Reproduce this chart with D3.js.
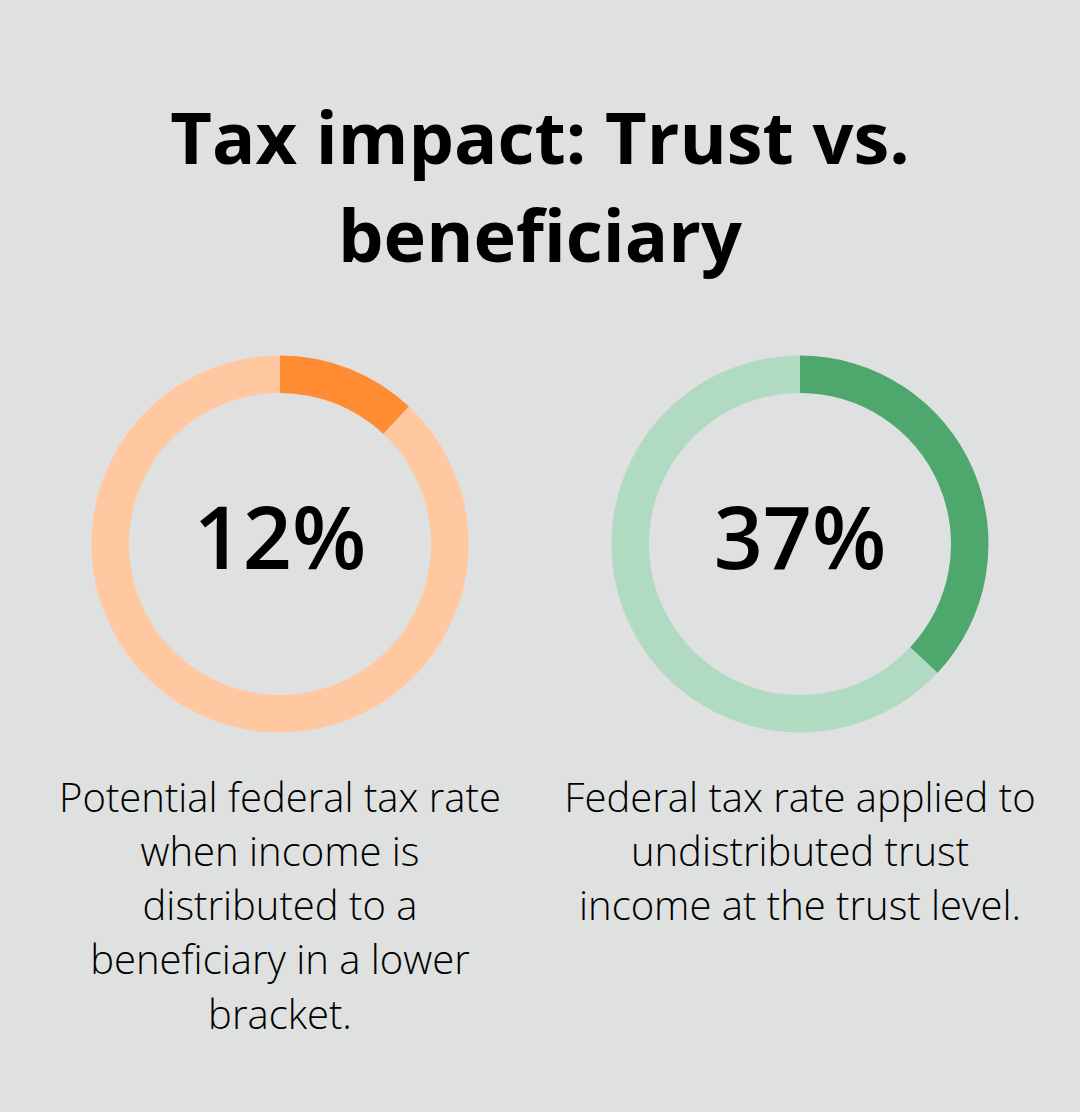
<!DOCTYPE html>
<html>
<head>
<meta charset="utf-8">
<script src="https://cdn.jsdelivr.net/npm/d3@7"></script>
<style>
  html, body { margin: 0; padding: 0; background: #dfe1e0; }
  svg { display: block; }
</style>
</head>
<body>
<div id="chart"></div>
<script>
// data
var titleLines = ["Tax impact: Trust vs.", "beneficiary"];
var labels = ["12%", "37%"];
var values = [12, 37];
var descriptions = [
    ["Potential federal tax rate", "when income is", "distributed to a", "beneficiary in a lower", "bracket."],
    ["Federal tax rate applied to", "undistributed trust", "income at the trust level."]
];
var darkColors = ["#ff8b33", "#4ea86d"];
var lightColors = ["#ffc8a0", "#b0dbc2"];

var WIDTH = 1080;
var HEIGHT = 1112;

var svg = d3.select("#chart").append("svg")
    .attr("width", WIDTH)
    .attr("height", HEIGHT);

svg.append("rect")
    .attr("width", WIDTH)
    .attr("height", HEIGHT)
    .attr("fill", "#dfe1e0");

// title
svg.selectAll(".title")
    .data(titleLines)
    .enter()
    .append("text")
    .attr("class", "title")
    .attr("x", WIDTH / 2)
    .attr("y", (d, i) => 164 + i * 98)
    .attr("text-anchor", "middle")
    .attr("font-family", "'Open Sans', sans-serif")
    .attr("font-weight", 700)
    .attr("font-size", 72)
    .attr("fill", "#000")
    .text(d => d);

// donuts
var xScale = d3.scalePoint()
    .domain(labels)
    .range([280, 800]);

var cy = 544;
var pie = d3.pie().sort(null).value(d => d);
var arc = d3.arc().innerRadius(151).outerRadius(188.5);

var groups = svg.selectAll(".donut")
    .data(values)
    .enter()
    .append("g")
    .attr("class", "donut")
    .attr("transform", (d, i) => "translate(" + xScale(labels[i]) + "," + cy + ")");

groups.each(function(v, i) {
    var g = d3.select(this);
    g.selectAll("path")
        .data(pie([v, 100 - v]))
        .enter()
        .append("path")
        .attr("d", arc)
        .attr("fill", (d, j) => j === 0 ? darkColors[i] : lightColors[i]);

    g.append("text")
        .attr("y", 25)
        .attr("text-anchor", "middle")
        .attr("font-family", "'Open Sans', sans-serif")
        .attr("font-weight", 600)
        .attr("font-size", 86)
        .attr("fill", "#000")
        .text(labels[i]);

    g.selectAll(".desc")
        .data(descriptions[i])
        .enter()
        .append("text")
        .attr("class", "desc")
        .attr("y", (d, k) => 811.5 - cy + k * 54.3)
        .attr("text-anchor", "middle")
        .attr("font-family", "'Open Sans', sans-serif")
        .attr("font-weight", 300)
        .attr("font-size", 40)
        .attr("fill", "#000")
        .text(d => d);
});
</script>
</body>
</html>
